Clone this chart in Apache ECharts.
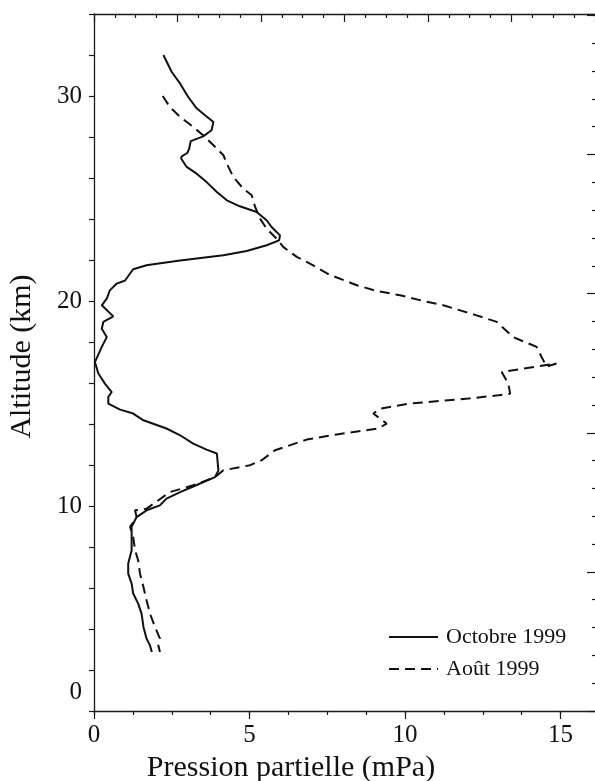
<!DOCTYPE html>
<html>
<head>
<meta charset="utf-8">
<script src="https://cdn.jsdelivr.net/npm/echarts@6/dist/echarts.min.js"></script>
<style>
  html, body { margin: 0; padding: 0; background: #fff; overflow: hidden; }
  #chart { width: 595px; height: 781px; }
</style>
</head>
<body>
<div id="chart"></div>
<script>
// ---- Data ----
const seriesNames = ['Octobre 1999', 'Août 1999'];

// Octobre 1999 (solid): partial pressure (mPa) and altitude (km)
const octobrePression = [2.23,2.50,2.77,3.03,3.30,3.57,3.84,3.78,3.51,3.11,3.06,3.00,2.82,2.80,2.98,3.30,3.62,3.95,4.27,4.69,5.23,5.55,5.71,5.87,5.98,5.95,5.55,4.91,4.16,2.77,2.02,1.69,1.26,1.16,1.00,0.73,0.51,0.41,0.25,0.62,0.30,0.25,0.41,0.25,0.03,0.14,0.35,0.57,0.46,0.46,0.84,1.26,1.59,2.33,2.77,3.19,3.62,3.95,4.00,3.89,3.19,2.77,2.33,2.12,1.69,1.37,1.21,1.21,1.21,1.10,1.10,1.21,1.26,1.42,1.53,1.59,1.69,1.80,1.86];
const octobreAltitude = [32.0,31.17,30.6,29.95,29.4,29.06,28.73,28.33,28.03,27.8,27.43,27.22,27.06,26.95,26.54,26.21,25.8,25.32,24.91,24.62,24.34,23.94,23.61,23.37,23.2,22.96,22.72,22.44,22.23,21.98,21.82,21.74,21.55,21.34,21.0,20.85,20.52,20.12,19.79,19.25,18.98,18.65,18.24,17.76,17.02,16.46,15.97,15.56,15.32,14.99,14.7,14.51,14.18,13.78,13.45,13.04,12.75,12.56,11.74,11.41,10.95,10.68,10.36,10.03,9.79,9.46,8.98,8.49,7.84,7.19,6.70,6.21,5.73,5.24,4.75,4.10,3.53,3.20,2.88];

// Août 1999 (dashed)
const aoutPression = [2.21,2.44,2.77,3.19,3.57,3.84,4.16,4.32,4.48,4.80,5.07,5.18,5.34,5.55,5.87,6.09,6.52,7.05,7.55,8.45,9.09,9.84,10.59,11.23,12.30,12.95,13.48,14.23,14.39,14.55,14.87,13.11,13.32,13.38,13.00,12.04,10.16,9.20,8.98,9.20,9.41,9.14,7.75,6.84,6.14,5.82,5.39,5.02,4.16,3.89,3.19,2.44,1.69,1.32,1.37,1.16,1.26,1.32,1.42,1.48,1.59,1.69,1.80,1.96,2.12,2.07,2.12];
const aoutAltitude = [30.0,29.46,28.98,28.49,28.0,27.6,27.11,26.54,26.05,25.48,25.16,24.59,24.02,23.53,23.04,22.63,22.15,21.74,21.3,20.77,20.49,20.28,20.0,19.79,19.3,18.98,18.24,17.76,17.27,16.8,16.95,16.54,15.97,15.48,15.4,15.24,15.0,14.75,14.51,14.26,14.02,13.78,13.48,13.24,12.88,12.72,12.23,11.99,11.74,11.41,11.01,10.68,9.87,9.79,9.46,8.98,8.49,7.84,7.35,6.7,6.05,5.4,4.75,4.10,3.53,3.20,2.88];

// Tick labels
const xTickLabels = [0, 5, 10, 15];
const yTickLabels = [0, 10, 20, 30];

// ---- Chart ----
const FONT = '"Liberation Serif", "DejaVu Serif", serif';
const AX = '#1a1a1a';
const XMAX = 16.14;
const YMAX = 34;
const TOPMAX = 24.05;   // top frame tick scale (unlabelled)
const RIGHTMAX = 25.05; // right frame tick scale (unlabelled)

const zip = (a, b) => a.map((v, i) => [v, b[i]]);

const chart = echarts.init(document.getElementById('chart'), null, { renderer: 'canvas' });

chart.setOption({
  animation: false,
  backgroundColor: '#ffffff',
  grid: { left: 94, top: 14, right: -1, bottom: 70, containLabel: false, outerBoundsMode: 'none' },
  legend: {
    orient: 'vertical',
    left: 388,
    top: 626,
    padding: 0,
    itemWidth: 49,
    itemHeight: 14,
    itemGap: 10,
    data: seriesNames,
    itemStyle: { opacity: 0, borderWidth: 0 },
    textStyle: { fontFamily: FONT, fontSize: 22, color: '#111', lineHeight: 21, padding: [0, 0, 0, 3] }
  },
  xAxis: [
    {
      type: 'value', position: 'bottom', min: 0, max: XMAX, interval: 1.25,
      name: 'Pression partielle (mPa)', nameLocation: 'middle', nameGap: 39,
      nameTextStyle: { fontFamily: FONT, fontSize: 30, color: '#111', padding: [0, 108, 0, 0] },
      axisLine: { show: true, onZero: false, lineStyle: { color: AX, width: 1.3 } },
      axisTick: { show: true, inside: false, length: 4, lineStyle: { color: AX, width: 1.2 } },
      axisLabel: {
        margin: 12, fontFamily: FONT, fontSize: 25, color: '#111',
        formatter: v => (xTickLabels.indexOf(v) >= 0 ? String(v) : '')
      },
      splitLine: { show: false }
    },
    {
      type: 'value', position: 'bottom', min: 0, max: XMAX, interval: 5,
      axisLine: { show: false },
      axisTick: { show: true, inside: false, length: 8, lineStyle: { color: AX, width: 1.2 } },
      axisLabel: { show: false },
      splitLine: { show: false }
    },
    {
      type: 'value', position: 'top', min: 0, max: TOPMAX, interval: 4,
      axisLine: { show: true, onZero: false, lineStyle: { color: AX, width: 1.3 } },
      axisTick: { show: true, inside: true, length: 8, lineStyle: { color: AX, width: 1.2 } },
      minorTick: { show: true, splitNumber: 4, length: 4, lineStyle: { color: AX, width: 1.2 } },
      axisLabel: { show: false },
      splitLine: { show: false }
    }
  ],
  yAxis: [
    {
      type: 'value', position: 'left', min: 0, max: YMAX, interval: 2,
      name: 'Altitude (km)', nameLocation: 'middle', nameGap: 57,
      nameTextStyle: { fontFamily: FONT, fontSize: 30, color: '#111', padding: [0, 0, 0, 12] },
      axisLine: { show: true, onZero: false, lineStyle: { color: AX, width: 1.3 } },
      axisTick: { show: true, inside: false, length: 5, lineStyle: { color: AX, width: 1.2 } },
      axisLabel: {
        margin: 12, fontFamily: FONT, fontSize: 25, color: '#111',
        formatter: v => (v === 0 ? '{z|0}' : (yTickLabels.indexOf(v) >= 0 ? String(v) : '')),
        rich: { z: { fontFamily: FONT, fontSize: 25, color: '#111', padding: [0, 0, 38, 0] } }
      },
      splitLine: { show: false }
    },
    {
      type: 'value', position: 'right', min: 0, max: RIGHTMAX, interval: 5,
      axisLine: { show: true, onZero: false, lineStyle: { color: AX, width: 1.3 } },
      axisTick: { show: true, inside: true, length: 9, lineStyle: { color: AX, width: 1.2 } },
      minorTick: { show: true, splitNumber: 5, length: 4, lineStyle: { color: AX, width: 1.2 } },
      axisLabel: { show: false },
      splitLine: { show: false }
    }
  ],
  series: [
    {
      name: seriesNames[0], type: 'line', xAxisIndex: 0, yAxisIndex: 0,
      data: zip(octobrePression, octobreAltitude),
      symbol: 'none', showSymbol: false, smooth: false,
      lineStyle: { color: '#111', width: 2, type: 'solid' },
      itemStyle: { color: '#111' }
    },
    {
      name: seriesNames[1], type: 'line', xAxisIndex: 0, yAxisIndex: 0,
      data: zip(aoutPression, aoutAltitude),
      symbol: 'none', showSymbol: false, smooth: false,
      lineStyle: { color: '#111', width: 2, type: [10, 6] },
      itemStyle: { color: '#111' }
    }
  ]
});
</script>
</body>
</html>
